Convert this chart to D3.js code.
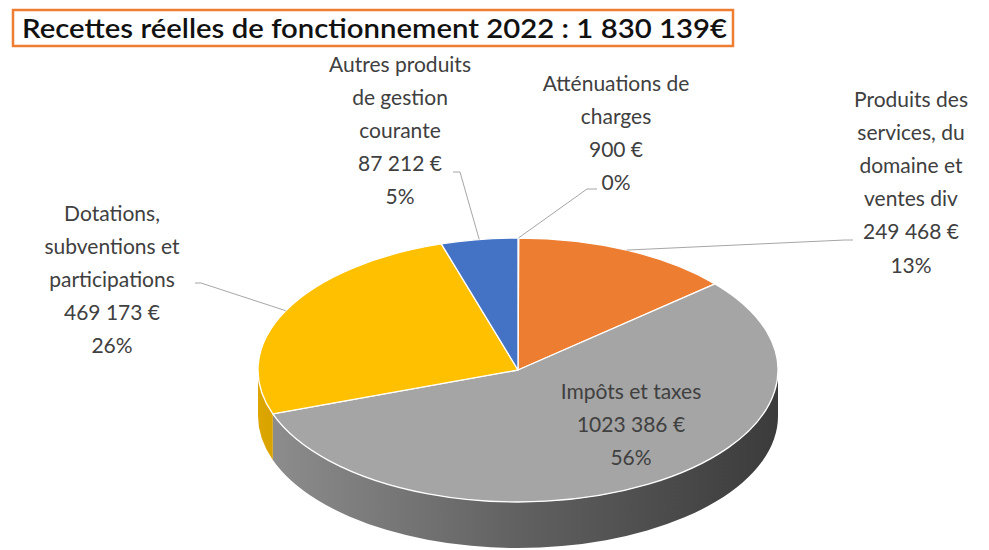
<!DOCTYPE html>
<html>
<head>
<meta charset="utf-8">
<script src="https://cdn.jsdelivr.net/npm/d3@7"></script>
<style>
  body { margin: 0; background: #fff; }
  svg { display: block; }
</style>
</head>
<body>
<div id="chart"></div>
<script>
// data
const title = "Recettes réelles de fonctionnement  2022 : 1 830 139€";
const categories = [
  "Atténuations de charges",
  "Produits des services, du domaine et ventes div",
  "Impôts et taxes",
  "Dotations, subventions et participations",
  "Autres produits de gestion courante"
];
const values = [900, 249468, 1023386, 469173, 87212];
// how each category name is broken on the chart
const labelLines = [
  ["Atténuations de", "charges"],
  ["Produits des", "services, du", "domaine et", "ventes div"],
  ["Impôts et taxes"],
  ["Dotations,", "subventions et", "participations"],
  ["Autres produits", "de gestion", "courante"]
];

// styles / layout
const colors = ["#5B9BD5", "#ED7D31", "#A5A5A5", "#FFC000", "#4472C4"];
const W = 989, H = 550;
const cx = 518, cy = 370, rx = 260, ry = 132, depth = 46;
const lineGap = 33.2;
// label anchors: center x, first line y, leader start (null = inside)
const labelPos = [
  { x: 616, y: 82, lead: [597, 189, -10] },
  { x: 911, y: 98, lead: [853, 240, -8] },
  { x: 631, y: 390, lead: null },
  { x: 112, y: 212, lead: [195, 283, 6] },
  { x: 400, y: 63, lead: [453, 172, 7] }
];

const svg = d3.select("#chart").append("svg")
  .attr("width", W).attr("height", H);

// "# ### €" like the source spreadsheet
function fmtEuro(n) {
  if (n < 1000) return n + " €";
  return Math.floor(n / 1000) + " " + String(n % 1000).padStart(3, "0") + " €";
}
// percentages rounded so they add up to 100 (largest remainder)
function roundPct(vals) {
  const tot = d3.sum(vals);
  const raw = vals.map(v => v / tot * 100);
  const fl = raw.map(Math.floor);
  let left = 100 - d3.sum(fl);
  const order = d3.range(vals.length).sort((a, b) => (raw[b] - fl[b]) - (raw[a] - fl[a]));
  for (let k = 0; k < left; k++) fl[order[k]] += 1;
  return fl;
}
const pcts = roundPct(values);

const pie = d3.pie().sort(null).value(d => d)(values);

const px = a => cx + rx * Math.sin(a);
const py = a => cy - ry * Math.cos(a);

// side gradients
const defs = svg.append("defs");
colors.forEach((c, i) => {
  const g = defs.append("linearGradient")
    .attr("id", "side" + i)
    .attr("gradientUnits", "userSpaceOnUse")
    .attr("x1", cx - rx).attr("x2", cx + rx).attr("y1", 0).attr("y2", 0);
  g.append("stop").attr("offset", "0%").attr("stop-color", d3.color(c).darker(0.4));
  g.append("stop").attr("offset", "50%").attr("stop-color", d3.color(c).darker(1.5));
  g.append("stop").attr("offset", "100%").attr("stop-color", d3.color(c).darker(2.9));
});

// side walls (front half only)
const sides = pie.map((d, i) => {
  const s0 = Math.max(d.startAngle, Math.PI / 2);
  const s1 = Math.min(d.endAngle, Math.PI * 1.5);
  return { i, s0, s1 };
}).filter(s => s.s1 > s.s0);

svg.append("g").selectAll("path")
  .data(sides)
  .join("path")
  .attr("d", s => {
    const large = (s.s1 - s.s0) > Math.PI ? 1 : 0;
    return `M${px(s.s0)},${py(s.s0)}` +
      `A${rx},${ry} 0 ${large} 1 ${px(s.s1)},${py(s.s1)}` +
      `L${px(s.s1)},${py(s.s1) + depth}` +
      `A${rx},${ry} 0 ${large} 0 ${px(s.s0)},${py(s.s0) + depth}Z`;
  })
  .attr("fill", s => `url(#side${s.i})`);

// top faces
svg.append("g").selectAll("path")
  .data(pie)
  .join("path")
  .attr("d", d => {
    const large = (d.endAngle - d.startAngle) > Math.PI ? 1 : 0;
    return `M${cx},${cy}L${px(d.startAngle)},${py(d.startAngle)}` +
      `A${rx},${ry} 0 ${large} 1 ${px(d.endAngle)},${py(d.endAngle)}Z`;
  })
  .attr("fill", (d, i) => colors[i])
  .attr("stroke", "#fff")
  .attr("stroke-width", 1.3)
  .attr("stroke-linejoin", "round");

// leader lines
svg.append("g").selectAll("polyline")
  .data(pie.filter((d, i) => labelPos[i].lead))
  .join("polyline")
  .attr("points", d => {
    const [sx, sy, dx] = labelPos[d.index].lead;
    const m = (d.startAngle + d.endAngle) / 2;
    return `${sx},${sy} ${sx + dx},${sy} ${px(m)},${py(m)}`;
  })
  .attr("fill", "none")
  .attr("stroke", "#A6A6A6")
  .attr("stroke-width", 1);

// data labels
const lab = svg.append("g")
  .attr("font-family", "Lato, 'Open Sans', sans-serif")
  .attr("font-size", 21)
  .attr("fill", "#404040")
  .attr("text-anchor", "middle");

lab.selectAll("text")
  .data(pie)
  .join("text")
  .attr("transform", (d, i) => `translate(${labelPos[i].x},${labelPos[i].y})`)
  .each(function (d, i) {
    const lines = labelLines[i].concat([fmtEuro(values[i]), pcts[i] + "%"]);
    d3.select(this).selectAll("tspan")
      .data(lines)
      .join("tspan")
      .attr("x", 0)
      .attr("y", (t, k) => k * lineGap)
      .attr("dominant-baseline", "central")
      .text(t => t);
  });

// title box
svg.append("rect")
  .attr("x", 13).attr("y", 10).attr("width", 720).attr("height", 36)
  .attr("fill", "#fff")
  .attr("stroke", "#ED7D31")
  .attr("stroke-width", 2.5);

svg.append("text")
  .attr("x", 22).attr("y", 28)
  .attr("dominant-baseline", "central")
  .attr("font-family", "Lato, 'Open Sans', sans-serif")
  .attr("font-weight", 600)
  .attr("font-size", 26)
  .attr("fill", "#111")
  .attr("textLength", 705)
  .attr("lengthAdjust", "spacingAndGlyphs")
  .text(title);
</script>
</body>
</html>
